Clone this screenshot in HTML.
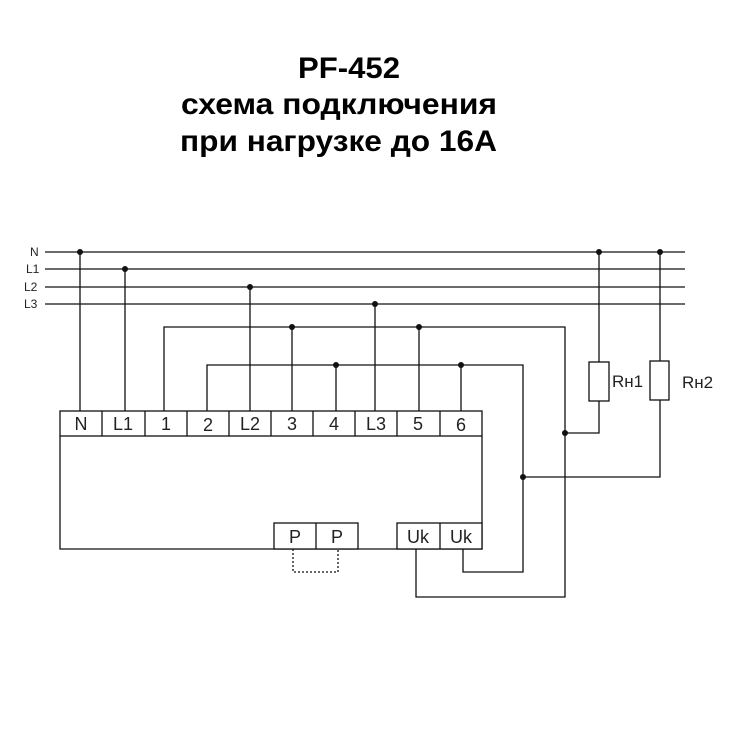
<!DOCTYPE html>
<html><head><meta charset="utf-8"><style>body{margin:0;background:#fff}svg{display:block}</style></head><body>
<svg width="750" height="750" viewBox="0 0 750 750" xmlns="http://www.w3.org/2000/svg" font-family="Liberation Sans, DejaVu Sans, sans-serif">
<rect width="750" height="750" fill="#fff"/>
<g font-weight="bold" font-size="30" fill="#000">
<text x="298" y="78" textLength="102" lengthAdjust="spacingAndGlyphs">PF-452</text>
<text x="181" y="114" textLength="316" lengthAdjust="spacingAndGlyphs">схема подключения</text>
<text x="180" y="151" textLength="317" lengthAdjust="spacingAndGlyphs">при нагрузке до 16А</text>
</g>
<g font-size="12" fill="#222">
<text x="30" y="256">N</text><text x="26" y="273">L1</text><text x="24" y="291">L2</text><text x="24" y="308">L3</text>
</g>
<g stroke="#111" stroke-width="1.3" fill="none">
<line x1="45" y1="252" x2="685" y2="252"/><line x1="45" y1="269" x2="685" y2="269"/>
<line x1="45" y1="287" x2="685" y2="287"/><line x1="45" y1="304" x2="685" y2="304"/>
<line x1="80" y1="252" x2="80" y2="411"/><line x1="125" y1="269" x2="125" y2="411"/>
<line x1="250" y1="287" x2="250" y2="411"/><line x1="375" y1="304" x2="375" y2="411"/>
<polyline points="164,411 164,327 565,327 565,597 416,597 416,549"/>
<polyline points="207,411 207,365 523,365 523,572 463,572 463,549"/>
<line x1="292" y1="327" x2="292" y2="411"/><line x1="419" y1="327" x2="419" y2="411"/>
<line x1="336" y1="365" x2="336" y2="411"/><line x1="461" y1="365" x2="461" y2="411"/>
<rect x="60" y="411" width="422" height="25"/>
<polyline points="60,436 60,549 482,549 482,436"/>
<line x1="102" y1="411" x2="102" y2="436"/><line x1="145" y1="411" x2="145" y2="436"/>
<line x1="187" y1="411" x2="187" y2="436"/><line x1="229" y1="411" x2="229" y2="436"/>
<line x1="271" y1="411" x2="271" y2="436"/><line x1="313" y1="411" x2="313" y2="436"/>
<line x1="355" y1="411" x2="355" y2="436"/><line x1="397" y1="411" x2="397" y2="436"/>
<line x1="440" y1="411" x2="440" y2="436"/>
<rect x="274" y="523" width="84" height="26" fill="#fff"/><line x1="316" y1="523" x2="316" y2="549"/>
<rect x="397" y="523" width="85" height="26" fill="#fff"/><line x1="440" y1="523" x2="440" y2="549"/>
<polyline points="293,549 293,572 338,572 338,549" stroke-dasharray="2,2"/>
<polyline points="599,252 599,362"/><rect x="589" y="362" width="20" height="39"/><polyline points="599,401 599,433 565,433"/>
<polyline points="660,252 660,361"/><rect x="650" y="361" width="19" height="39"/><polyline points="660,400 660,477 523,477"/>
</g>
<g fill="#111">
<circle cx="80" cy="252" r="3"/><circle cx="125" cy="269" r="3"/><circle cx="250" cy="287" r="3"/><circle cx="375" cy="304" r="3"/>
<circle cx="292" cy="327" r="3"/><circle cx="419" cy="327" r="3"/><circle cx="336" cy="365" r="3"/><circle cx="461" cy="365" r="3"/>
<circle cx="599" cy="252" r="3"/><circle cx="660" cy="252" r="3"/><circle cx="565" cy="433" r="3"/><circle cx="523" cy="477" r="3"/>
</g>
<g font-size="18" fill="#222" text-anchor="middle">
<text x="81" y="430">N</text><text x="123" y="430">L1</text><text x="166" y="430">1</text><text x="208" y="431">2</text>
<text x="250" y="430">L2</text><text x="292" y="430">3</text><text x="334" y="430">4</text><text x="376" y="430">L3</text>
<text x="418" y="430">5</text><text x="461" y="431">6</text>
<text x="295" y="543">P</text><text x="337" y="543">P</text>
<text x="418" y="543">Uk</text><text x="461" y="543">Uk</text>
</g>
<g font-size="17" fill="#222">
<text x="612" y="387">Rн1</text><text x="682" y="388">Rн2</text>
</g>
</svg>
</body></html>
